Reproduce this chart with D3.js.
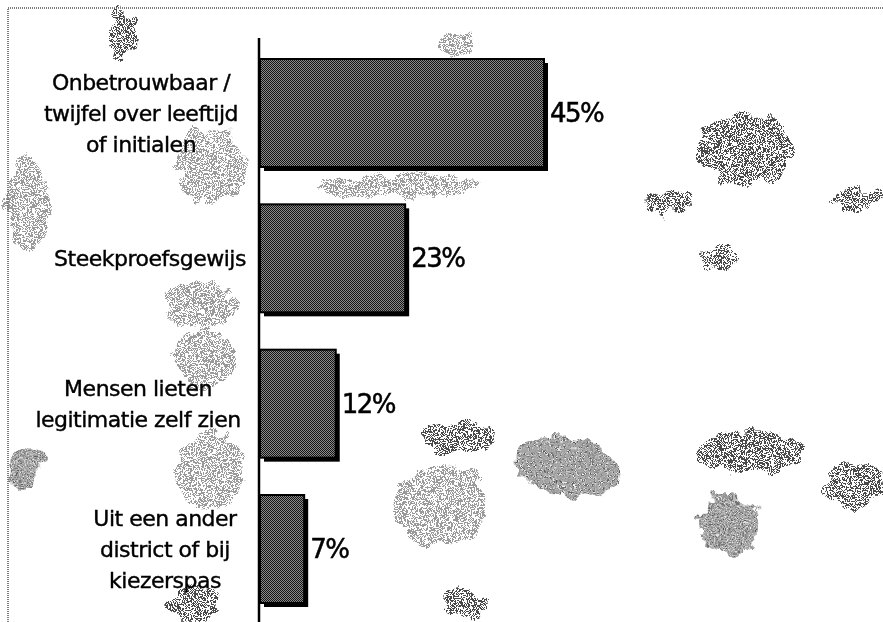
<!DOCTYPE html>
<html>
<head>
<meta charset="utf-8">
<script src="https://cdn.jsdelivr.net/npm/d3@7"></script>
<style>
  html, body { margin: 0; padding: 0; background: #fff; }
  svg { display: block; }
</style>
</head>
<body>
<svg id="chart" width="883" height="622"></svg>
<script>
// ---- data ----
const categories = [
  ["Onbetrouwbaar /", "twijfel over leeftijd", "of initialen"],
  ["Steekproefsgewijs"],
  ["Mensen lieten", "legitimatie zelf zien"],
  ["Uit een ander", "district of bij", "kiezerspas"]
];
const values = [45, 23, 12, 7];
const valueLabels = ["45%", "23%", "12%", "7%"];

// ---- layout ----
const W = 883, H = 622;
const labelCenters = [141, 150, 138, 165];
const svg = d3.select("#chart");
const defs = svg.append("defs");

// dither patterns
function checker(id, bg, fg) {
  const p = defs.append("pattern").attr("id", id)
    .attr("width", 2).attr("height", 2).attr("patternUnits", "userSpaceOnUse");
  if (bg) p.append("rect").attr("width", 2).attr("height", 2).attr("fill", bg);
  p.append("rect").attr("x", 0).attr("y", 0).attr("width", 1).attr("height", 1).attr("fill", fg);
  p.append("rect").attr("x", 1).attr("y", 1).attr("width", 1).attr("height", 1).attr("fill", fg);
}
checker("barFill", "#8a8a8a", "#151515");
checker("blobLight", null, "#9a9a9a");
checker("blobDark", null, "#4a4a4a");

// irregular cloud edges
const f = defs.append("filter").attr("id", "cloud")
  .attr("x", "-30%").attr("y", "-30%").attr("width", "160%").attr("height", "160%");
f.append("feTurbulence").attr("type", "fractalNoise").attr("baseFrequency", 0.06)
  .attr("numOctaves", 3).attr("seed", 7).attr("result", "noise");
f.append("feDisplacementMap").attr("in", "SourceGraphic").attr("in2", "noise")
  .attr("scale", 22).attr("xChannelSelector", "R").attr("yChannelSelector", "G");

// background "cloud" blobs (scan texture)
const blobs = [
  [122, 35, 14, 26, 0, "blobDark"],
  [28, 205, 22, 48, 0, "blobLight"],
  [26, 468, 16, 20, 20, "blobDark"],
  [212, 165, 34, 38, 0, "blobLight"],
  [200, 305, 36, 24, 0, "blobLight"],
  [205, 358, 32, 28, 0, "blobLight"],
  [210, 470, 36, 38, 0, "blobLight"],
  [195, 605, 26, 16, 0, "blobDark"],
  [400, 185, 80, 12, 0, "blobLight"],
  [455, 45, 18, 12, 0, "blobLight"],
  [745, 150, 48, 36, 0, "blobDark"],
  [670, 203, 26, 12, 0, "blobDark"],
  [855, 200, 24, 10, 0, "blobDark"],
  [718, 256, 18, 11, 0, "blobDark"],
  [460, 438, 36, 16, 0, "blobDark"],
  [568, 466, 54, 30, 10, "blobDark"],
  [440, 505, 48, 40, 0, "blobLight"],
  [750, 452, 52, 22, 0, "blobDark"],
  [730, 525, 32, 28, 30, "blobDark"],
  [855, 485, 28, 25, 0, "blobDark"],
  [465, 603, 22, 14, 0, "blobDark"]
];
svg.append("g").attr("filter", "url(#cloud)")
  .selectAll("ellipse").data(blobs).join("ellipse")
  .attr("cx", d => d[0]).attr("cy", d => d[1])
  .attr("rx", d => d[2]).attr("ry", d => d[3])
  .attr("transform", d => `rotate(${d[4]},${d[0]},${d[1]})`)
  .attr("fill", d => `url(#${d[5]})`);

// frame (dotted scan border)
svg.append("path")
  .attr("d", `M8,${H} L8,8 L${W},8`)
  .attr("fill", "none").attr("stroke", "#555").attr("stroke-width", 1.5)
  .attr("stroke-dasharray", "1,1");

// scales
const x = d3.scaleLinear().domain([0, 45]).range([260, 544]);
const y = d3.scaleBand().domain(d3.range(values.length))
  .range([59, 603]).paddingInner(0.257).paddingOuter(0);

// bar shadows
svg.append("g").selectAll("rect").data(values).join("rect")
  .attr("x", x(0) + 4).attr("y", (d, i) => y(i) + 4)
  .attr("width", d => x(d) - x(0)).attr("height", y.bandwidth())
  .attr("fill", "#000");

// bars
svg.append("g").selectAll("rect").data(values).join("rect")
  .attr("x", x(0)).attr("y", (d, i) => y(i))
  .attr("width", d => x(d) - x(0)).attr("height", y.bandwidth())
  .attr("fill", "url(#barFill)")
  .attr("stroke", "#000").attr("stroke-width", 2);

// axis line
svg.append("line")
  .attr("x1", 259).attr("x2", 259).attr("y1", 38).attr("y2", H)
  .attr("stroke", "#000").attr("stroke-width", 2.5);

// value labels
svg.append("g").selectAll("text").data(values).join("text")
  .attr("x", d => x(d) + 6)
  .attr("y", (d, i) => y(i) + y.bandwidth() / 2 + 9)
  .attr("font-family", "DejaVu Sans, Verdana, sans-serif")
  .attr("font-size", 26).attr("letter-spacing", -1.5)
  .attr("fill", "#000").attr("stroke", "#000").attr("stroke-width", 0.5)
  .text((d, i) => valueLabels[i]);

// category labels
const lineH = 31;
const lab = svg.append("g").selectAll("text").data(categories).join("text")
  .attr("text-anchor", "middle")
  .attr("font-family", "DejaVu Sans, Verdana, sans-serif")
  .attr("font-size", 22).attr("letter-spacing", -0.5)
  .attr("fill", "#000").attr("stroke", "#000").attr("stroke-width", 0.4);
lab.each(function (lines, i) {
  const cy = y(i) + y.bandwidth() / 2;
  const start = cy - (lines.length - 1) * lineH / 2;
  d3.select(this).selectAll("tspan").data(lines).join("tspan")
    .attr("x", labelCenters[i])
    .attr("y", (l, j) => start + j * lineH + 8)
    .text(l => l);
});
</script>
</body>
</html>
